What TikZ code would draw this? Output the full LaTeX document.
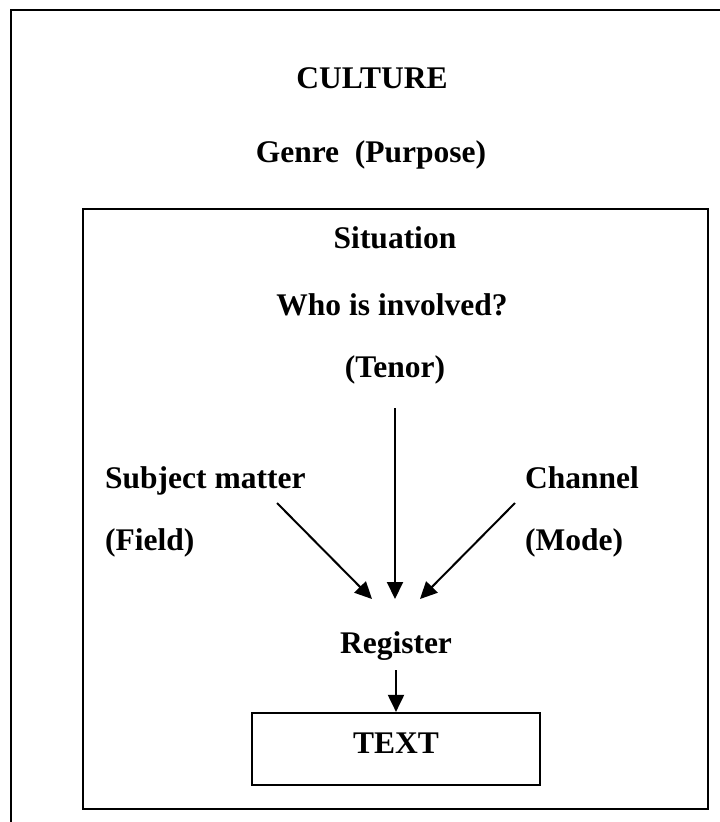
\documentclass[tikz,border=0pt]{standalone}
\usepackage{fontspec}
\setmainfont{Liberation Serif}
\usetikzlibrary{arrows.meta}
\begin{document}
\begin{tikzpicture}[x=1pt,y=-1pt,
  lbl/.style={font=\fontsize{31.5}{36}\selectfont\bfseries,inner sep=0pt,anchor=base},
  lbll/.style={lbl,anchor=base west},
  frame/.style={draw=black,line width=2.2pt},
  arr/.style={line width=2pt,-{Triangle[length=17pt,width=16pt]}}]
\useasboundingbox (0,0) rectangle (720,822);
% outer frame (continues beyond the page)
\draw[frame] (11,840) -- (11,10) -- (740,10);
% inner box
\draw[frame] (83,209) rectangle (708,809);
% text box
\node[frame,minimum width=288pt,minimum height=72pt,inner sep=0pt] (textbox) at (396,749) {};
\node[lbl] (culture) at (372,88) {CULTURE};
\node[lbl] (genre) at (371,162) {Genre\ \ (Purpose)};
\node[lbl] (situation) at (395,248) {Situation};
\node[lbl] (who) at (392,315) {Who is involved?};
\node[lbl] (tenor) at (395,377) {(Tenor)};
\node[lbll] (subject) at (105,488) {Subject matter};
\node[lbll] (field) at (105,550) {(Field)};
\node[lbll] (channel) at (525,488) {Channel};
\node[lbll] (mode) at (525,550) {(Mode)};
\node[lbl] (register) at (396,653) {Register};
\node[lbl] (text) at (396,753) {TEXT};
% arrow end points
\coordinate (ts) at (395,408);
\coordinate (te) at (395,599);
\coordinate (ls) at (277,503);
\coordinate (le) at (372,599);
\coordinate (rs) at (515,503);
\coordinate (re) at (420,599);
\coordinate (rg) at (396,670);
\draw[arr] (ts) -- (te);
\draw[arr] (ls) -- (le);
\draw[arr] (rs) -- (re);
\draw[arr] (rg) -- (textbox.north);
\end{tikzpicture}
\end{document}
